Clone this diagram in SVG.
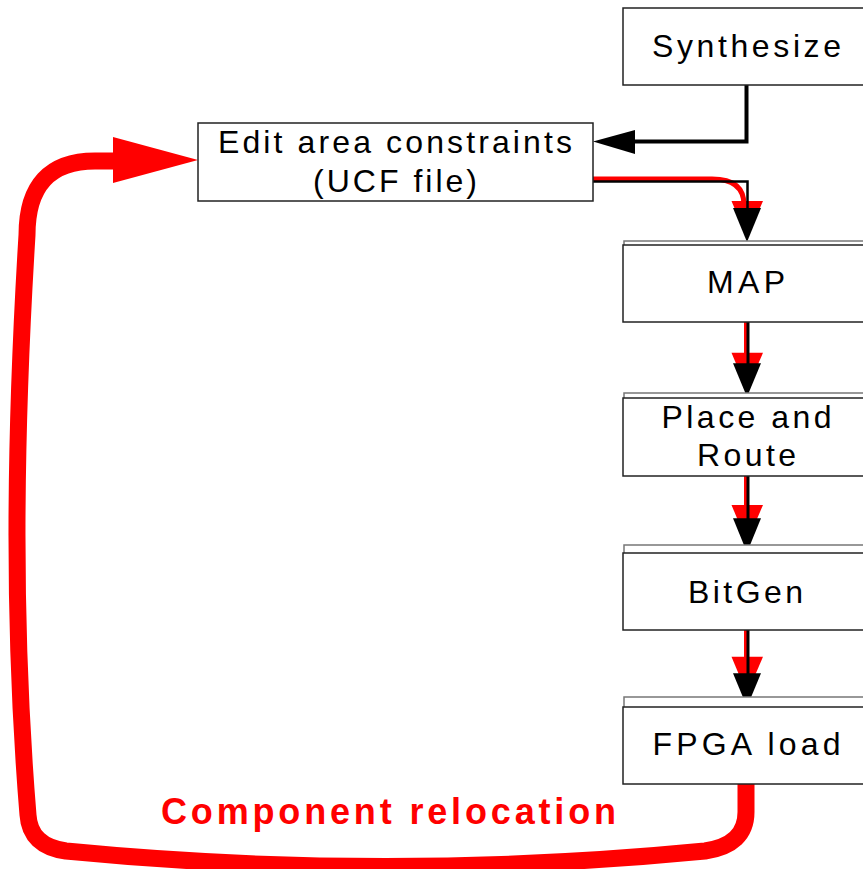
<svg xmlns="http://www.w3.org/2000/svg" width="863" height="869" viewBox="0 0 863 869">
<style>
.box{fill:#fff;stroke:#222;stroke-width:1.5}
.back{fill:#fff;stroke:#777;stroke-width:1.5}
.t{font-family:"Liberation Sans",Arial,sans-serif;font-size:32px;fill:#000;text-anchor:middle}
.lbl{font-family:"Liberation Sans",Arial,sans-serif;font-size:36px;font-weight:bold;fill:#ff0000}
.red{fill:none;stroke:#ff0000}
.blk{fill:none;stroke:#000}
</style>
<rect width="863" height="869" fill="#fff"/>
<g id="connectors">
  <path class="red" stroke-width="17" stroke-linejoin="round" d="M746,784 V812 Q746,845 705,851 Q385,882 66,851 Q30,846 28,815 C12,620 15,430 27,235 Q27,161 95,161 H118"/>
  <polygon points="113,137 198,160 113,183" fill="#ff0000"/>
  <path class="blk" stroke-width="4" d="M746.5,85 V141.5 H630"/>
  <polygon points="593,141.5 635,130 635,154" fill="#000"/>
  <path class="red" stroke-width="5" d="M593,179 H712 Q744,179 744,205"/>
  <polygon points="731.5,201 763,201 747,238" fill="#ff0000"/>
  <path class="blk" stroke-width="2.5" d="M593,181.5 H747.5 V215"/>
  <polygon points="733,208 761,208 747,242" fill="#000"/>
  <line class="red" stroke-width="5" x1="746.5" y1="322" x2="746.5" y2="365"/>
  <polygon points="731.5,352.7 763,352.7 747,390" fill="#ff0000"/>
  <line class="blk" stroke-width="3" x1="748" y1="322" x2="748" y2="370"/>
  <polygon points="733,363.3 761,363.3 747,397" fill="#000"/>
  <line class="red" stroke-width="5" x1="746.5" y1="476" x2="746.5" y2="518"/>
  <polygon points="731.5,505 763,505 747,542" fill="#ff0000"/>
  <line class="blk" stroke-width="3" x1="748" y1="476" x2="748" y2="525"/>
  <polygon points="733,518.3 761,518.3 747,552.5" fill="#000"/>
  <line class="red" stroke-width="5" x1="746.5" y1="630" x2="746.5" y2="670"/>
  <polygon points="731.5,656.7 763,656.7 747,694" fill="#ff0000"/>
  <line class="blk" stroke-width="3" x1="748" y1="630" x2="748" y2="680"/>
  <polygon points="733,673.3 761,673.3 747,707" fill="#000"/>
</g>
<g id="synthesize">
  <rect class="box" x="623" y="8" width="260" height="77"/>
  <text class="t" x="746.5" y="57" textLength="189" lengthAdjust="spacing">Synthesize</text>
</g>
<g id="edit">
  <rect class="box" x="198" y="123" width="395" height="78"/>
  <text class="t" x="395" y="152.5" textLength="354" lengthAdjust="spacing">Edit area constraints</text>
  <text class="t" x="395" y="191.5" textLength="164" lengthAdjust="spacing">(UCF file)</text>
</g>
<g id="map">
  <rect class="back" x="624" y="241" width="260" height="20"/>
  <rect class="box" x="623" y="245" width="260" height="77"/>
  <text class="t" x="746" y="293" textLength="78" lengthAdjust="spacing">MAP</text>
</g>
<g id="par">
  <rect class="back" x="624" y="393" width="260" height="20"/>
  <rect class="box" x="623" y="398" width="260" height="78"/>
  <text class="t" x="746.5" y="428" textLength="170" lengthAdjust="spacing">Place and</text>
  <text class="t" x="746.5" y="466" textLength="99" lengthAdjust="spacing">Route</text>
</g>
<g id="bitgen">
  <rect class="back" x="624" y="545" width="260" height="20"/>
  <rect class="box" x="623" y="553" width="260" height="77"/>
  <text class="t" x="745.5" y="603" textLength="115" lengthAdjust="spacing">BitGen</text>
</g>
<g id="fpga">
  <rect class="back" x="624" y="697" width="260" height="20"/>
  <rect class="box" x="623" y="707" width="260" height="77"/>
  <text class="t" x="746.5" y="755" textLength="188" lengthAdjust="spacing">FPGA load</text>
</g>
<g id="label">
  <text class="lbl" x="161" y="824" textLength="455" lengthAdjust="spacing">Component relocation</text>
</g>
</svg>
